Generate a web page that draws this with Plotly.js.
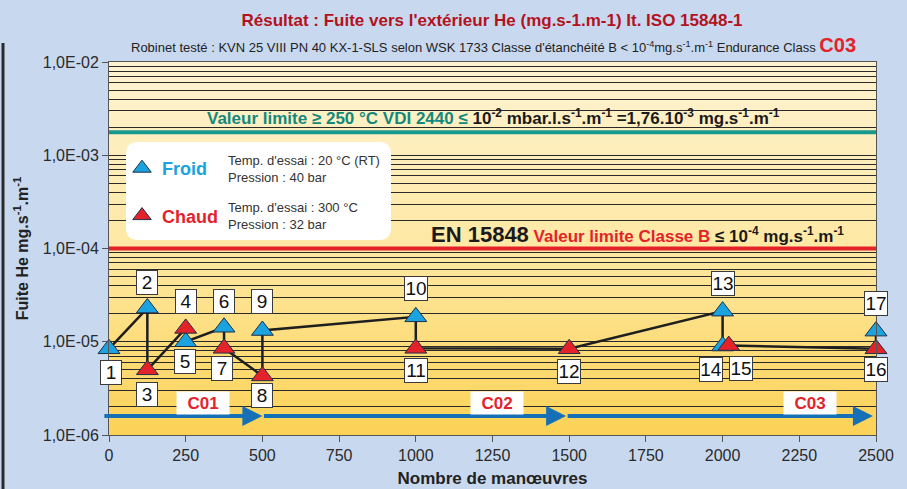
<!DOCTYPE html>
<html>
<head>
<meta charset="utf-8">
<script src="https://cdn.plot.ly/plotly-3.0.1.min.js"></script>
<style>html,body{margin:0;padding:0;background:#c8d9ef;}#chart{width:907px;height:489px;}</style>
</head>
<body>
<div id="chart"></div>
<script>
// ---------- data ----------
const pointLabels = ['1','2','3','4','5','6','7','8','9','10','11','12','13','14','15','16','17'];
const cycles = [0, 125, 125, 250, 250, 375, 375, 500, 500, 1000, 1000, 1500, 2000, 2000, 2020, 2500, 2500];
const leak = [8.4e-6, 2.3e-5, 5.0e-6, 1.39e-5, 1.0e-5, 1.43e-5, 8.5e-6, 4.3e-6, 1.32e-5, 1.85e-5, 8.5e-6, 8.4e-6, 2.13e-5, 9.0e-6, 9.1e-6, 8.4e-6, 1.3e-5];
const condition = ['F','F','C','C','F','F','C','C','F','F','C','C','F','F','C','C','F']; // F = Froid, C = Chaud
const limitVDI = 1.76e-3;
const limitEN = 1e-4;
const phaseNames = ['C01', 'C02', 'C03'];
const phaseStart = [-20, 500, 1490];
const phaseEnd = [500, 1490, 2490];
const phaseLabelX = [306, 1264, 2284];
const phaseArrowLevel = 1.6e-6;
const phaseLabelLevel = 2.2e-6;
const xTicks = [0, 250, 500, 750, 1000, 1250, 1500, 1750, 2000, 2250, 2500];
const yTicks = [1e-6, 1e-5, 1e-4, 1e-3, 1e-2];
const yTickText = ['1,0E-06', '1,0E-05', '1,0E-04', '1,0E-03', '1,0E-02'];

// ---------- label placement (pixels) ----------
const labelDX = [2, 0, 0, 0, -1, 0, -2, 0, 0, 0, 0, 0, 0, -11.5, 12.5, 0, 0];
const labelDY = [-24, 26, -24.5, 27, -20, 26, -20, -20, 29, 28, -22, -23, 28, -23, -23, -21, 28];

const BLUE = '#1aa3df', RED = '#e3222a', EDGE = '#1d2f4a';
const FONT = "'Liberation Sans', Arial, sans-serif";

const idxF = [], idxC = [];
condition.forEach((c, i) => (c === 'F' ? idxF : idxC).push(i));

const traces = [
  { x: [0, 2500], y: [limitVDI, limitVDI], mode: 'lines', line: { color: '#179a8b', width: 4 }, showlegend: false, hoverinfo: 'skip' },
  { x: [0, 2500], y: [limitEN, limitEN], mode: 'lines', line: { color: '#e3222a', width: 4 }, showlegend: false, hoverinfo: 'skip' },
  { x: cycles, y: leak, mode: 'lines', line: { color: '#1e1e1e', width: 2.5 }, showlegend: false, cliponaxis: false, hoverinfo: 'skip' },
  { x: idxF.map(i => cycles[i]), y: idxF.map(i => leak[i]), mode: 'markers', name: '<b><span style="color:' + BLUE + '">Froid</span></b>',
    marker: { symbol: 'triangle-up', size: 19, color: BLUE, line: { color: EDGE, width: 1 } }, cliponaxis: false, legendgroup: 'f' },
  { x: idxC.map(i => cycles[i]), y: idxC.map(i => leak[i]), mode: 'markers', name: '<b><span style="color:' + RED + '">Chaud</span></b>',
    marker: { symbol: 'triangle-up', size: 19, color: RED, line: { color: EDGE, width: 1 } }, cliponaxis: false, legendgroup: 'c' }
];

const annotations = [];
// point number labels
pointLabels.forEach((t, i) => {
  annotations.push({
    x: cycles[i], y: Math.log10(leak[i]), xref: 'x', yref: 'y', text: t, showarrow: false,
    xshift: labelDX[i], yshift: labelDY[i],
    font: { family: FONT, size: 19, color: '#111' },
    bgcolor: '#ffffff', bordercolor: '#3a3a3a', borderwidth: 1, borderpad: 0,
    width: t.length > 1 ? 22 : 20, height: 23
  });
});
// phase arrows and labels
phaseNames.forEach((name, i) => {
  annotations.push({
    x: phaseEnd[i], y: Math.log10(phaseArrowLevel), ax: phaseStart[i], ay: Math.log10(phaseArrowLevel),
    xref: 'x', yref: 'y', axref: 'x', ayref: 'y', text: '', showarrow: true,
    arrowhead: 2, arrowsize: 1, arrowwidth: 4, arrowcolor: '#1670b8'
  });
  annotations.push({
    x: phaseLabelX[i], y: Math.log10(phaseLabelLevel), xref: 'x', yref: 'y', text: '<b>' + name + '</b>', showarrow: false,
    font: { family: FONT, size: 17, color: '#e3222a' }, bgcolor: '#ffffff', width: 50, height: 20
  });
});
// legend detail texts
annotations.push({
  xref: 'paper', yref: 'paper', x: (226 - 109) / 767, y: (435 - 169) / 373, xanchor: 'left', yanchor: 'middle', align: 'left',
  text: "Temp. d'essai : 20 °C (RT)<br>Pression : 40 bar", showarrow: false, font: { family: FONT, size: 13, color: '#333' }
});
annotations.push({
  xref: 'paper', yref: 'paper', x: (226 - 109) / 767, y: (435 - 216) / 373, xanchor: 'left', yanchor: 'middle', align: 'left',
  text: "Temp. d'essai : 300 °C<br>Pression : 32 bar", showarrow: false, font: { family: FONT, size: 13, color: '#333' }
});
// limit line texts
annotations.push({
  xref: 'paper', yref: 'paper', x: (493 - 109) / 767, y: (435 - 117) / 373, xanchor: 'center', yanchor: 'middle', showarrow: false,
  text: '<b><span style="color:#11897c">Valeur limite ≥ 250 °C VDI 2440 ≤</span> 10<sup>-2</sup> mbar.l.s<sup>-1</sup>.m<sup>-1</sup> =1,76.10<sup>-3</sup> mg.s<sup>-1</sup>.m<sup>-1</sup></b>',
  font: { family: FONT, size: 17, color: '#1a1a1a' }
});
annotations.push({
  xref: 'paper', yref: 'paper', x: (637 - 109) / 767, y: (435 - 234) / 373, xanchor: 'center', yanchor: 'middle', showarrow: false,
  text: '<b><span style="font-size:22px">EN 15848</span> <span style="color:#e3222a">Valeur limite Classe B</span> ≤ 10<sup>-4</sup> mg.s<sup>-1</sup>.m<sup>-1</sup></b>',
  font: { family: FONT, size: 17, color: '#1a1a1a' }
});
// subtitle
annotations.push({
  xref: 'paper', yref: 'paper', x: (493 - 109) / 767, y: (435 - 45) / 373, xanchor: 'center', yanchor: 'middle', showarrow: false,
  text: "Robinet testé : KVN 25 VIII PN 40 KX-1-SLS selon WSK 1733 Classe d'étanchéité B &lt; 10<sup>-4</sup>mg.s<sup>-1</sup>.m<sup>-1</sup> Endurance Class <b><span style=\"color:#e3222a;font-size:20px\">C03</span></b>",
  font: { family: FONT, size: 13, color: '#222' }
});

const gradSvg = '<svg xmlns="http://www.w3.org/2000/svg" width="10" height="100" preserveAspectRatio="none"><defs><linearGradient id="g" x1="0" y1="0" x2="0" y2="1"><stop offset="0" stop-color="#fef3d2"/><stop offset="0.5" stop-color="#fee8a3"/><stop offset="1" stop-color="#fcd256"/></linearGradient></defs><rect width="10" height="100" fill="url(#g)"/></svg>';

const r = 12;
const px = v => (v - 109) / 767, py = v => (435 - v) / 373;
const bx0 = 126, bx1 = 391, by0 = 142, by1 = 240;
const boxPath = 'M ' + px(bx0 + r) + ' ' + py(by0) + ' L ' + px(bx1 - r) + ' ' + py(by0) +
  ' Q ' + px(bx1) + ' ' + py(by0) + ' ' + px(bx1) + ' ' + py(by0 + r) +
  ' L ' + px(bx1) + ' ' + py(by1 - r) + ' Q ' + px(bx1) + ' ' + py(by1) + ' ' + px(bx1 - r) + ' ' + py(by1) +
  ' L ' + px(bx0 + r) + ' ' + py(by1) + ' Q ' + px(bx0) + ' ' + py(by1) + ' ' + px(bx0) + ' ' + py(by1 - r) +
  ' L ' + px(bx0) + ' ' + py(by0 + r) + ' Q ' + px(bx0) + ' ' + py(by0) + ' ' + px(bx0 + r) + ' ' + py(by0) + ' Z';

const layout = {
  width: 907, height: 489,
  margin: { l: 109, r: 31, t: 62, b: 54 },
  paper_bgcolor: '#c8d9ef',
  plot_bgcolor: 'rgba(0,0,0,0)',
  font: { family: FONT, color: '#222' },
  title: { text: "<b>Résultat : Fuite vers l'extérieur He (mg.s-1.m-1) It. ISO 15848-1</b>", font: { family: FONT, size: 17, color: '#b3121d' },
           x: 492 / 907, xanchor: 'center', y: 1 - 20 / 489, yanchor: 'middle', yref: 'container' },
  xaxis: {
    range: [0, 2500], tickvals: xTicks, ticks: 'outside', ticklen: 6, tickcolor: '#555',
    showgrid: false, zeroline: false, showline: true, linecolor: '#555', linewidth: 1, mirror: true,
    tickfont: { family: FONT, size: 16, color: '#2a2a2a' },
    title: { text: '<b>Nombre de manœuvres</b>', font: { family: FONT, size: 17, color: '#222' }, standoff: 8 }
  },
  yaxis: {
    type: 'log', range: [-6, -2], tickvals: yTicks, ticktext: yTickText, ticks: 'outside', ticklen: 6, tickcolor: '#555',
    showgrid: true, gridcolor: '#2a2a2a', gridwidth: 1,
    minor: { dtick: 'D1', showgrid: true, gridcolor: '#2a2a2a', gridwidth: 1, ticks: '' },
    zeroline: false, showline: true, linecolor: '#555', linewidth: 1, mirror: true,
    tickfont: { family: FONT, size: 16, color: '#2a2a2a' },
    title: { text: '<b>Fuite He mg.s<sup>-1</sup>.m<sup>-1</sup></b>', font: { family: FONT, size: 16, color: '#222' }, standoff: 10 }
  },
  showlegend: true,
  legend: { x: px(122), y: py(150), xanchor: 'left', yanchor: 'top', bgcolor: 'rgba(0,0,0,0)', borderwidth: 0,
            font: { family: FONT, size: 18 }, tracegroupgap: 21, itemclick: false },
  images: [{ source: 'data:image/svg+xml;utf8,' + encodeURIComponent(gradSvg), xref: 'x domain', yref: 'y domain',
             x: 0, y: 1, sizex: 1, sizey: 1, xanchor: 'left', yanchor: 'top', sizing: 'stretch', layer: 'below' }],
  shapes: [
    { type: 'path', xref: 'paper', yref: 'paper', path: boxPath, fillcolor: '#ffffff', line: { width: 0 }, layer: 'above' },
    { type: 'line', xref: 'paper', yref: 'paper', x0: px(3), x1: px(3), y0: py(43), y1: py(495), line: { color: '#2b2b2b', width: 3 } }
  ],
  annotations: annotations
};

Plotly.newPlot('chart', traces, layout, { displayModeBar: false, staticPlot: true });
</script>
</body>
</html>
